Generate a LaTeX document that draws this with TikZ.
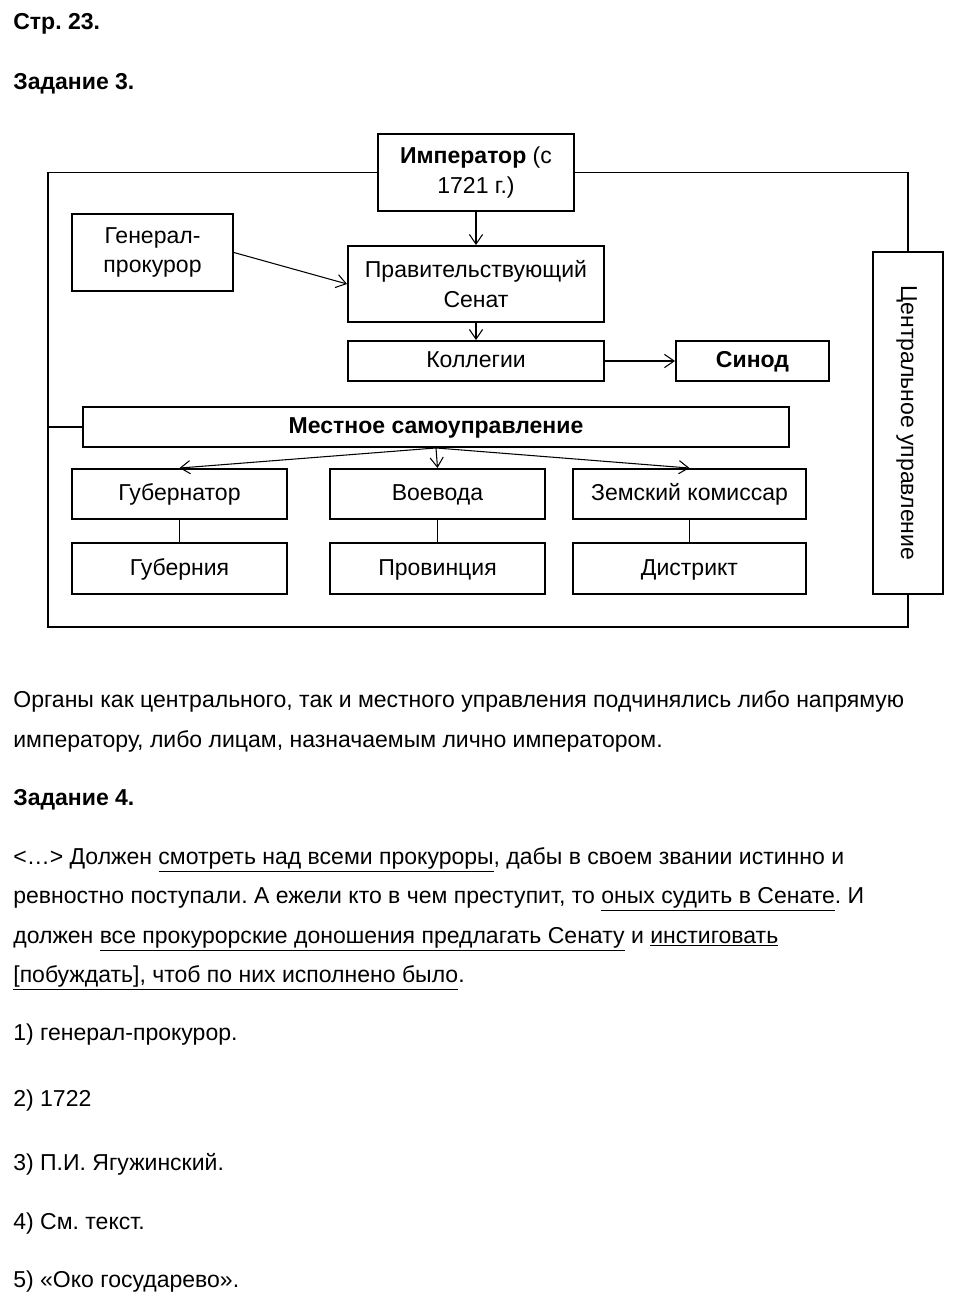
\documentclass[tikz,border=0pt]{standalone}
\usepackage{fontspec}
\setmainfont{Liberation Sans}
\usetikzlibrary{arrows.meta,positioning}
\frenchspacing
\newcommand{\pagefont}{\fontsize{13.1}{17}\selectfont}
\tikzset{
  orgbox/.style   ={draw=black, line width=1.1pt, inner sep=2pt,
                    align=center, font=\pagefont},
  oneline/.style  ={text height=1.8ex, text depth=0.3ex},
  framel/.style   ={draw=black, line width=0.6pt},
  orgarr/.style   ={-{Straight Barb[length=5.5pt,width=7.5pt]}, line width=0.6pt},
  txtline/.style  ={anchor=base west, inner sep=0pt, font=\pagefont},
}

\begin{document}
\begin{tikzpicture}[x=0.02cm,y=-0.02cm]
    \useasboundingbox (0,0) rectangle (953,1306);

    % ----- headings -----
    \node[txtline] (pg) at (13,29) {\textbf{Стр. 23.}};
    \node[txtline] (t3) at (13,89) {\textbf{Задание 3.}};

    % ----- central organs -----
    \node[orgbox,minimum width=3.92cm,minimum height=1.54cm] (emp) at (476,172.5)
      {\textbf{Император} (с\\1721 г.)};
    \node[orgbox,minimum width=3.22cm,minimum height=1.54cm] (genpr) at (152.5,252.5)
      {Генерал-\\прокурор};
    \node[orgbox,minimum width=5.12cm,minimum height=1.52cm] (senat) at (476,284)
      {Правительствующий\\Сенат};
    \node[orgbox,oneline,minimum width=5.12cm,minimum height=0.8cm] (koll) at (476,361)
      {Коллегии};
    \node[orgbox,oneline,minimum width=3.06cm,minimum height=0.8cm] (sinod) at (752.5,361)
      {\textbf{Синод}};
    \node[orgbox,oneline,rotate=-90,minimum width=6.84cm,minimum height=1.4cm] (cent) at (908,423)
      {Центральное управление};

    \draw[orgarr] (emp.south) -- (senat.north);
    \draw[orgarr] (genpr.east) -- (senat.west);
    \draw[orgarr] (senat.south) -- (koll.north);
    \draw[orgarr] (koll.east) -- (sinod.west);

    % ----- local organs -----
    \node[orgbox,oneline,minimum width=14.12cm,minimum height=0.8cm] (mestn) at (436,427)
      {\textbf{Местное самоуправление}};
    \node[orgbox,oneline,minimum width=4.3cm,minimum height=1.0cm] (gub) at (179.5,494) {Губернатор};
    \node[orgbox,oneline,minimum width=4.3cm,minimum height=1.0cm] (voev) at (437.5,494) {Воевода};
    \node[orgbox,oneline,minimum width=4.66cm,minimum height=1.0cm] (zem) at (689.5,494) {Земский комиссар};
    \node[orgbox,oneline,minimum width=4.3cm,minimum height=1.02cm] (gubr) at (179.5,568.5) {Губерния};
    \node[orgbox,oneline,minimum width=4.3cm,minimum height=1.02cm] (prov) at (437.5,568.5) {Провинция};
    \node[orgbox,oneline,minimum width=4.66cm,minimum height=1.02cm] (distr) at (689.5,568.5) {Дистрикт};

    \draw[orgarr] (mestn.south) -- (gub.north);
    \draw[orgarr] (mestn.south) -- (voev.north);
    \draw[orgarr] (mestn.south) -- (zem.north);
    \draw[framel] (gub.south) -- (gubr.north);
    \draw[framel] (voev.south) -- (prov.north);
    \draw[framel] (zem.south) -- (distr.north);

    % ----- outer frame -----
    \coordinate (fbl) at (48,627);
    \draw[framel] (emp.west) -| (fbl) -| (cent.east);
    \draw[framel] (emp.east) -| (cent.west);
    \draw[framel] (mestn.west) -- (mestn.west -| fbl);

    % ----- answer text -----
    \node[txtline] (a1) at (13,707)
      {Органы как центрального, так и местного управления подчинялись либо напрямую};
    \node[txtline] (a2) at (13,747)
      {императору, либо лицам, назначаемым лично императором.};
    \node[txtline] (t4) at (13,805) {\textbf{Задание 4.}};
    \node[txtline] (q1) at (13,864)
      {<…> Должен \underline{смотреть над всеми прокуроры}, дабы в своем звании истинно и};
    \node[txtline] (q2) at (13,903)
      {ревностно поступали. А ежели кто в чем преступит, то \underline{оных судить в Сенате}. И};
    \node[txtline] (q3) at (13,943)
      {должен \underline{все прокурорские доношения предлагать Сенату} и \underline{инстиговать}};
    \node[txtline] (q4) at (13,982)
      {\underline{[побуждать], чтоб по них исполнено было}.};
    \node[txtline] (r1) at (13,1040) {1) генерал-прокурор.};
    \node[txtline] (r2) at (13,1106) {2) 1722};
    \node[txtline] (r3) at (13,1170) {3) П.И. Ягужинский.};
    \node[txtline] (r4) at (13,1229) {4) См. текст.};
    \node[txtline] (r5) at (13,1287) {5) «Око государево».};
\end{tikzpicture}
\end{document}
